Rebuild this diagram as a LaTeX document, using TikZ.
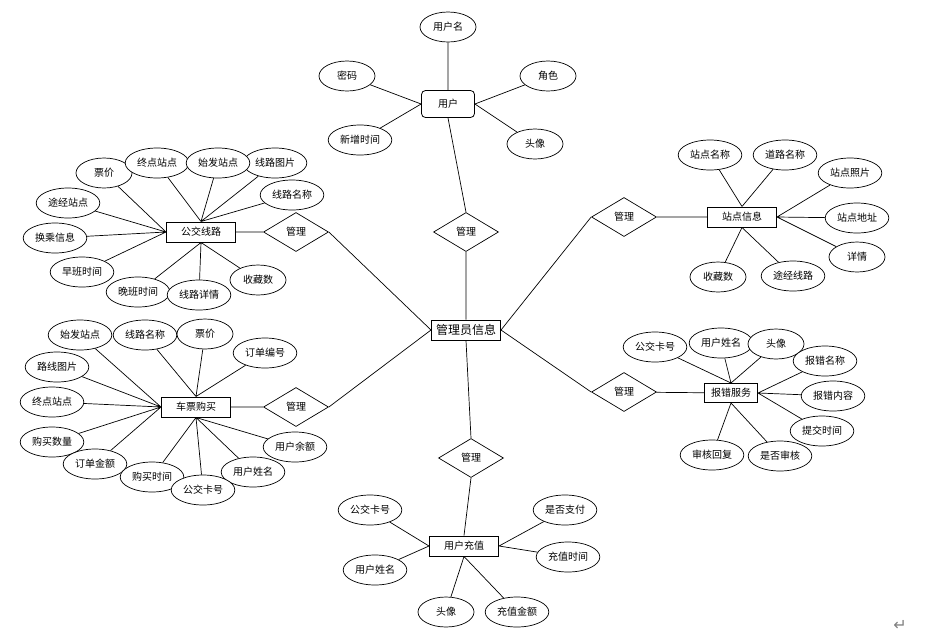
\documentclass[tikz,border=0pt]{standalone}
\usepackage{fontspec}
\newfontfamily\cjk{Noto Sans CJK SC}
\newfontfamily\symfont{DejaVu Sans}
\usepackage{tikz}
\usetikzlibrary{shapes.geometric,backgrounds}

\begin{document}
\begin{tikzpicture}[
  x=1pt, y=-1pt,
  font=\cjk\fontsize{10}{12}\selectfont,
  attr/.style={draw, ellipse, fill=white, line width=0.7pt, minimum width=56pt,
               minimum height=30pt, inner sep=2.5pt},
  ent/.style={draw, fill=white, line width=1pt, minimum width=69pt,
              minimum height=20pt, inner sep=1pt},
  rel/.style={draw, diamond, fill=white, line width=0.7pt, minimum width=65pt,
              minimum height=39pt, inner sep=0pt},
  link/.style={line width=0.7pt},
]
\useasboundingbox (0,0) rectangle (945,638);

% ── 中心实体 ──
\node[ent, font=\cjk\fontsize{12}{14}\selectfont] (admin) at (466,330) {管理员信息};

% ── 六个“管理”关系 ──
\node[rel] (r1) at (466,232) {管理};
\node[rel] (r2) at (296,232) {管理};
\node[rel] (r3) at (296,407) {管理};
\node[rel] (r4) at (624,217) {管理};
\node[rel] (r5) at (624,392) {管理};
\node[rel] (r6) at (471,458) {管理};

% ── 用户 ──
\node[ent, rounded corners=4pt, line width=0.8pt, minimum width=53pt, minimum height=27pt]
  (user) at (448,104) {用户};
\node[attr] (ua) at (448,27)  {用户名};
\node[attr] (ub) at (347,76)  {密码};
\node[attr] (uc) at (548,76)  {角色};
\node[attr] (ud) at (360,140) {新增时间};
\node[attr] (ue) at (535,144) {头像};

% ── 公交线路 ──
\node[ent] (bus) at (201,232) {公交线路};
\node[attr] (b1)  at (104,173) {票价};
\node[attr] (b2)  at (157,163) {终点站点};
\node[attr] (b3)  at (275,163) {线路图片};
\node[attr] (b4)  at (218,163) {始发站点};
\node[attr] (b5)  at (292,195) {线路名称};
\node[attr] (b6)  at (68,203)  {途经站点};
\node[attr] (b7)  at (55,238)  {换乘信息};
\node[attr] (b8)  at (82,272)  {早班时间};
\node[attr] (b9)  at (138,292) {晚班时间};
\node[attr] (b10) at (199,295) {线路详情};
\node[attr] (b11) at (258,280) {收藏数};

% ── 车票购买 ──
\node[ent] (tk) at (196,407) {车票购买};
\node[attr] (t1)  at (80,335)  {始发站点};
\node[attr] (t2)  at (145,335) {线路名称};
\node[attr] (t3)  at (205,334) {票价};
\node[attr] (t4)  at (265,353) {订单编号};
\node[attr] (t5)  at (57,367)  {路线图片};
\node[attr] (t6)  at (52,402)  {终点站点};
\node[attr] (t7)  at (52,442)  {购买数量};
\node[attr] (t8)  at (95,464)  {订单金额};
\node[attr] (t9)  at (152,477) {购买时间};
\node[attr] (t11) at (253,472) {用户姓名};
\node[attr] (t10) at (203,490) {公交卡号};
\node[attr] (t12) at (295,447) {用户余额};

% ── 站点信息 ──
\node[ent] (st) at (742,217) {站点信息};
\node[attr] (s1) at (710,155) {站点名称};
\node[attr] (s2) at (785,155) {道路名称};
\node[attr] (s3) at (850,173) {站点照片};
\node[attr] (s4) at (857,218) {站点地址};
\node[attr] (s5) at (857,257) {详情};
\node[attr] (s6) at (718,277) {收藏数};
\node[attr] (s7) at (793,276) {途经线路};

% ── 报错服务 ──
\node[ent, minimum width=53pt, minimum height=19pt] (er) at (731,393) {报错服务};
\node[attr] (e1) at (655,347) {公交卡号};
\node[attr] (e2) at (721,343) {用户姓名};
\node[attr] (e3) at (776,344) {头像};
\node[attr] (e4) at (825,361) {报错名称};
\node[attr] (e5) at (833,396) {报错内容};
\node[attr] (e6) at (822,431) {提交时间};
\node[attr] (e7) at (712,455) {审核回复};
\node[attr] (e8) at (780,456) {是否审核};

% ── 用户充值 ──
\node[ent] (rc) at (464,546) {用户充值};
\node[attr] (c1) at (370,510) {公交卡号};
\node[attr] (c2) at (375,570) {用户姓名};
\node[attr] (c3) at (565,510) {是否支付};
\node[attr] (c4) at (568,557) {充值时间};
\node[attr] (c5) at (446,612) {头像};
\node[attr] (c6) at (517,612) {充值金额};

\node[text=gray, font=\symfont\fontsize{16}{18}\selectfont] (ret) at (900,625) {↵};

% ── 连线 ──
\begin{scope}[on background layer]
  \draw[link] (user.south) -- (r1.north) (r1.south) -- (admin.north);
  \draw[link] (r2.east) -- (admin.west) (r3.east) -- (admin.west);
  \draw[link] (r4.west) -- (admin.east) (r5.west) -- (admin.east);
  \draw[link] (admin.south) -- (r6.north) (r6.south) -- (rc.north);
  \draw[link] (bus) -- (r2) (tk) -- (r3) (r4) -- (st) (r5) -- (er);

  \draw[link] (ua) -- (user.north) (ub) -- (user.west) (ud) -- (user.west)
              (uc) -- (user.east) (ue) -- (user.east);

  \draw[link] (b1) -- (bus.west) (b6) -- (bus.west) (b7) -- (bus.west) (b8) -- (bus.west)
              (b2) -- (bus.north) (b3) -- (bus.north) (b4) -- (bus.north) (b5) -- (bus.north)
              (b9) -- (bus.south) (b10) -- (bus.south) (b11) -- (bus.south);

  \draw[link] (t1) -- (tk.west) (t5) -- (tk.west) (t6) -- (tk.west) (t7) -- (tk.west)
              (t8) -- (tk.west)
              (t2) -- (tk.north) (t3) -- (tk.north) (t4) -- (tk.north)
              (t9) -- (tk.south) (t10) -- (tk.south) (t11) -- (tk.south) (t12) -- (tk.south);

  \draw[link] (s1) -- (st.north) (s2) -- (st.north)
              (s3) -- (st.east) (s4) -- (st.east) (s5) -- (st.east)
              (s6) -- (st.south) (s7) -- (st.south);

  \draw[link] (e1) -- (er.north) (e2) -- (er.north) (e3) -- (er.north)
              (e4) -- (er.east) (e5) -- (er.east) (e6) -- (er.east)
              (e7) -- (er.south) (e8) -- (er.south);

  \draw[link] (c1) -- (rc.west) (c2) -- (rc.west) (c3) -- (rc.east) (c4) -- (rc.east)
              (c5) -- (rc.south) (c6) -- (rc.south);
\end{scope}

\end{tikzpicture}
\end{document}
